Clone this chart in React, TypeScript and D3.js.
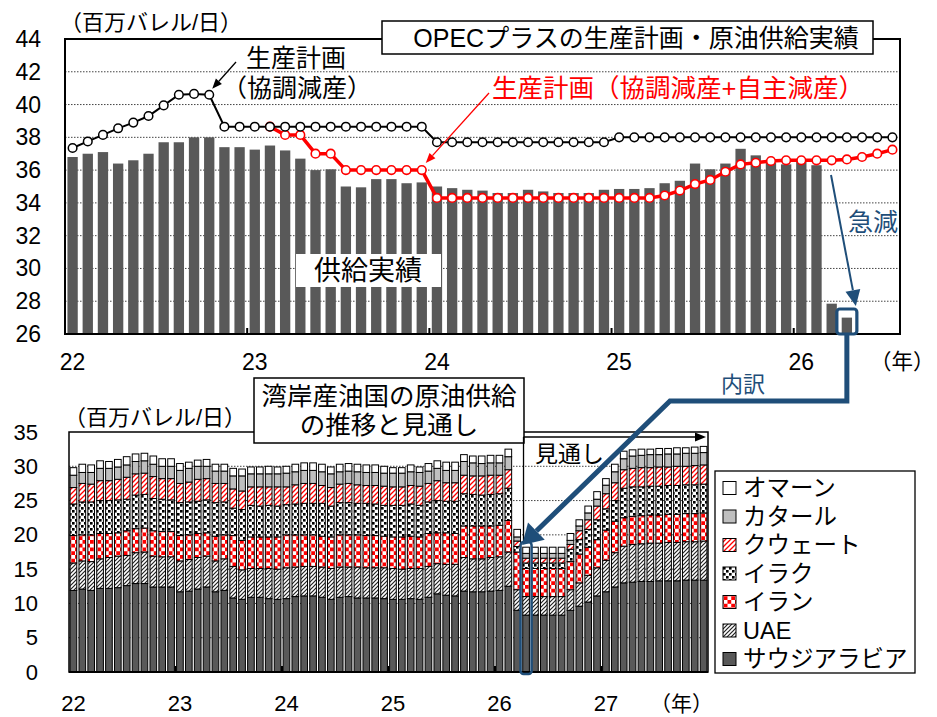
import React from 'react'
import * as d3 from 'd3'

// ---- data: OPEC+ (top chart), monthly Jan 2022 -> Jul 2026
const topMonths = d3.timeMonth.range(new Date(2022, 0, 1), new Date(2026, 7, 1))
const topYears = ['22', '23', '24', '25', '26']

// actual crude supply, Jan 2022 - Apr 2026
const supplyActual = [
  36.8, 37.0, 37.1, 36.4, 36.6, 37.0, 37.7, 37.7, 38.0, 38.0, 37.4, 37.4,
  37.25, 37.5, 37.2, 36.7, 36.0, 36.05, 35.0, 34.95, 35.45, 35.45, 35.2, 35.25,
  35.0, 34.9, 34.8, 34.75, 34.6, 34.6, 34.8, 34.7, 34.6, 34.6, 34.6, 34.8,
  34.85, 34.85, 34.9, 35.2, 35.35, 36.4, 36.05, 36.4, 37.3, 36.9, 36.45, 36.35,
  36.55, 36.3, 27.85, 27.0,
]
// production plan (coordinated cuts)
const planCoord = [
  37.35, 37.75, 38.15, 38.55, 38.9, 39.3, 39.95, 40.6, 40.65, 40.6, 38.65, 38.65,
  38.65, 38.65, 38.65, 38.65, 38.65, 38.65, 38.65, 38.65, 38.65, 38.65, 38.65, 38.65,
  37.7, 37.7, 37.7, 37.7, 37.7, 37.7, 37.7, 37.7, 37.7, 37.7, 37.7, 37.7,
  38.0, 38.0, 38.0, 38.0, 38.0, 38.0, 38.0, 38.0, 38.0, 38.0, 38.0, 38.0,
  38.0, 38.0, 38.0, 38.0, 38.0, 38.0, 38.0,
]
// production plan (coordinated + voluntary cuts)
const planVoluntary = [
  null, null, null, null, null, null, null, null, null, null, null, null,
  null, 38.65, 38.15, 38.15, 37.0, 37.0, 36.0, 36.0, 36.0, 36.0, 36.0, 36.0,
  34.3, 34.3, 34.3, 34.3, 34.3, 34.3, 34.3, 34.3, 34.3, 34.3, 34.3, 34.3,
  34.3, 34.3, 34.3, 34.45, 34.75, 35.15, 35.4, 35.9, 36.35, 36.45, 36.55, 36.6,
  36.6, 36.6, 36.6, 36.65, 36.8, 37.0, 37.25,
]
const topTicks = [26, 28, 30, 32, 34, 36, 38, 40, 42, 44]

// ---- data: Gulf producers (bottom chart), monthly Jan 2022 -> Dec 2027
const botMonths = d3.timeMonth.range(new Date(2022, 0, 1), new Date(2028, 0, 1))
const botYears = ['22', '23', '24', '25', '26', '27']
const saudi = [
  11.9, 12.1, 11.9, 12.2, 12.2, 12.3, 12.6, 12.9, 12.9, 12.4, 12.4, 12.4,
  11.7, 11.8, 12.1, 12.4, 11.7, 11.9, 10.8, 10.6, 10.9, 10.9, 10.7, 10.6,
  10.7, 11.0, 11.1, 11.1, 10.9, 10.6, 10.9, 11.0, 10.8, 10.8, 10.8, 10.7,
  10.6, 10.6, 10.7, 10.6, 10.9, 11.4, 11.2, 11.1, 11.8, 11.7, 11.7, 11.8,
  11.9, 12.5, 9.0, 8.3, 8.3, 8.3, 8.3, 8.3, 9.0, 9.6, 10.2, 11.1,
  11.7, 12.4, 13.0, 13.1, 13.2, 13.2, 13.3, 13.3, 13.3, 13.4, 13.4, 13.4,
]
const uae = [
  4.0, 4.1, 4.2, 4.3, 4.5, 4.6, 4.4, 4.5, 4.6, 4.5, 4.4, 4.4,
  4.5, 4.6, 4.6, 4.5, 4.5, 4.6, 4.6, 4.3, 4.2, 4.2, 4.4, 4.4,
  4.5, 4.3, 4.3, 4.3, 4.4, 4.5, 4.4, 4.3, 4.5, 4.4, 4.4, 4.5,
  4.5, 4.4, 4.4, 4.5, 4.5, 4.4, 4.5, 4.6, 4.9, 4.8, 4.8, 4.9,
  4.9, 5.0, 3.0, 2.7, 2.7, 2.7, 2.7, 2.7, 3.0, 3.4, 3.9, 4.1,
  4.6, 5.0, 5.35, 5.5, 5.5, 5.6, 5.5, 5.6, 5.6, 5.6, 5.6, 5.7,
]
const iran = [
  4.0, 3.8, 3.9, 3.7, 3.5, 3.4, 3.6, 3.5, 3.5, 3.7, 3.7, 3.7,
  3.7, 3.6, 3.5, 3.4, 3.6, 3.5, 4.5, 4.3, 4.6, 4.6, 4.6, 4.7,
  4.8, 4.7, 4.6, 4.6, 4.5, 4.6, 4.7, 4.7, 4.7, 4.7, 4.7, 4.6,
  4.6, 4.7, 4.7, 4.6, 4.8, 4.5, 4.6, 4.5, 4.6, 4.8, 4.8, 4.6,
  4.6, 4.6, 5.5, 4.1, 4.1, 4.1, 4.1, 4.1, 4.1, 4.2, 4.1, 4.1,
  4.4, 4.6, 4.15, 4.1, 4.1, 4.1, 4.1, 4.1, 4.1, 4.1, 4.1, 4.1,
]
const iraq = [
  4.6, 4.8, 4.8, 4.8, 4.8, 4.8, 4.6, 4.9, 4.9, 4.7, 4.7, 4.6,
  4.8, 4.8, 4.7, 4.8, 4.9, 4.8, 4.0, 4.5, 4.6, 4.5, 4.6, 4.5,
  4.4, 4.5, 4.6, 4.6, 4.8, 4.5, 4.7, 4.7, 4.6, 4.7, 4.6, 4.5,
  4.6, 4.6, 4.7, 4.6, 4.6, 4.7, 4.6, 4.7, 4.7, 4.6, 4.5, 4.6,
  4.6, 4.7, 0.8, 0.8, 0.8, 0.8, 0.8, 0.8, 1.8, 2.1, 2.6, 2.9,
  3.1, 3.0, 4.3, 4.3, 4.2, 4.2, 4.2, 4.2, 4.2, 4.2, 4.2, 4.2,
]
const kuwait = [
  2.4, 2.7, 2.6, 2.9, 2.9, 3.0, 3.2, 3.1, 3.1, 3.2, 3.0, 3.1,
  2.8, 2.9, 3.2, 3.1, 2.8, 2.7, 2.8, 2.7, 2.7, 2.8, 2.7, 2.8,
  2.6, 2.8, 2.9, 2.9, 2.6, 2.7, 2.7, 2.8, 2.7, 2.6, 2.7, 2.8,
  2.7, 2.7, 2.7, 2.8, 2.7, 2.9, 2.7, 2.7, 2.7, 2.7, 2.8, 2.8,
  2.7, 2.7, 0.8, 0.7, 0.7, 0.7, 0.7, 0.7, 0.7, 1.3, 1.4, 2.0,
  2.2, 2.6, 2.7, 2.7, 2.8, 2.7, 2.8, 2.7, 2.8, 2.7, 2.8, 2.8,
]
const qatar = [
  1.8, 1.6, 1.7, 1.8, 1.8, 1.8, 1.8, 1.8, 1.8, 1.8, 1.8, 1.8,
  1.9, 2.0, 1.9, 1.8, 1.8, 1.8, 1.9, 2.2, 1.9, 1.9, 1.9, 1.9,
  2.0, 1.9, 1.9, 1.9, 2.0, 2.0, 1.8, 1.8, 1.9, 1.9, 1.9, 1.9,
  2.0, 2.0, 2.0, 2.0, 1.8, 1.8, 1.8, 1.8, 2.0, 1.9, 1.8, 1.8,
  1.8, 1.9, 0.6, 0.7, 0.7, 0.7, 0.7, 0.7, 0.6, 0.7, 1.0, 1.0,
  1.25, 1.6, 1.6, 1.8, 1.8, 1.9, 1.8, 1.9, 1.8, 1.9, 1.8, 1.8,
]
const oman = [
  1.1, 1.2, 1.1, 1.1, 1.0, 1.1, 1.2, 1.1, 1.1, 1.2, 1.1, 1.1,
  1.0, 0.9, 0.9, 1.0, 1.0, 1.0, 1.1, 1.0, 1.0, 1.0, 1.1, 1.0,
  1.0, 1.1, 1.1, 1.1, 1.1, 1.0, 1.1, 1.1, 1.1, 1.1, 1.1, 1.0,
  0.8, 0.8, 1.0, 0.8, 1.1, 1.1, 1.2, 1.2, 1.0, 1.0, 1.1, 1.1,
  1.1, 1.1, 1.1, 0.9, 0.9, 0.9, 0.9, 0.9, 1.0, 0.9, 1.0, 1.1,
  0.95, 1.1, 1.1, 0.9, 0.9, 0.8, 0.9, 0.8, 0.9, 0.8, 0.9, 0.9,
]
const botTicks = [0, 5, 10, 15, 20, 25, 30, 35]
const seriesKeys = ['saudi', 'uae', 'iran', 'iraq', 'kuwait', 'qatar', 'oman']
const seriesNames = ['サウジアラビア', 'UAE', 'イラン', 'イラク', 'クウェート', 'カタール', 'オマーン']

const FONT = "'Liberation Sans', Arial, 'Noto Sans CJK JP', sans-serif"
const BLUE = '#1F4E79'
const RED = '#FF0000'

const fills: Record<string, string> = {
  saudi: '#595959',
  uae: 'url(#hatchGray)',
  iran: 'url(#checkRed)',
  iraq: 'url(#dotsBlack)',
  kuwait: 'url(#hatchRed)',
  qatar: '#BFBFBF',
  oman: '#FFFFFF',
}

// triangle with tip at (x2,y2)
function head(x1: number, y1: number, x2: number, y2: number, len: number, wid: number) {
  const a = Math.atan2(y2 - y1, x2 - x1)
  const bx = x2 - len * Math.cos(a)
  const by = y2 - len * Math.sin(a)
  const px = (wid / 2) * Math.sin(a)
  const py = (wid / 2) * Math.cos(a)
  return {
    pts: `${x2},${y2} ${bx + px},${by - py} ${bx - px},${by + py}`,
    bx, by,
  }
}

function Arrow({ x1, y1, x2, y2, color, width, len, wid }: any) {
  const h = head(x1, y1, x2, y2, len, wid)
  return (
    <g>
      <line x1={x1} y1={y1} x2={h.bx} y2={h.by} stroke={color} strokeWidth={width} />
      <polygon points={h.pts} fill={color} />
    </g>
  )
}

export default function App() {
  /* ---- top chart setup ---- */
  const T = { l: 65, r: 900, t: 39, b: 334 }
  const xT = d3.scaleBand<number>().domain(d3.range(topMonths.length)).range([T.l, T.r]).paddingInner(0.32).paddingOuter(0.16)
  const xTc = (i: number) => (xT(i) as number) + xT.bandwidth() / 2
  const stepT = xT.step()
  const yT = d3.scaleLinear().domain([26, 44]).range([T.b, T.t])

  const lineT = d3.line<number | null>()
    .defined((d) => d != null)
    .x((_, i) => xTc(i))
    .y((d) => yT(d as number))

  /* ---- bottom chart setup ---- */
  const B = { l: 69, r: 708, t: 432, b: 672 }
  const xB = d3.scaleBand<number>().domain(d3.range(botMonths.length)).range([B.l, B.r]).paddingInner(0.25).paddingOuter(0.125)
  const xBc = (i: number) => (xB(i) as number) + xB.bandwidth() / 2
  const stepB = xB.step()
  const yB = d3.scaleLinear().domain([0, 35]).range([B.b, B.t])

  const rows = botMonths.map((_, i) => ({
    saudi: saudi[i], uae: uae[i], iran: iran[i], iraq: iraq[i],
    kuwait: kuwait[i], qatar: qatar[i], oman: oman[i],
  }))
  const stacked = d3.stack<any>().keys(seriesKeys)(rows)

  // callout arrow geometry (from highlighted top bar to highlighted bottom bar)
  const hiTop = 51
  const hiBot = 51
  const topBoxX = xTc(hiTop)
  const botBoxX = xBc(hiBot)
  const calloutHead = head(670, 401, botBoxX - 4, 545, 20, 24)
  const fcX = (xB(50) as number) + xB.bandwidth() + 3

  return (
    <svg width={937} height={717} style={{ position: 'absolute', left: 0, top: 0, background: '#fff' }} fontFamily={FONT}>
      <defs>
        <pattern id="hatchGray" patternUnits="userSpaceOnUse" width={4} height={4}>
          <rect width={4} height={4} fill="#fff" />
          <path d="M-1,1 l2,-2 M0,4 l4,-4 M3,5 l2,-2" stroke="#222" strokeWidth={1.2} />
        </pattern>
        <pattern id="hatchRed" patternUnits="userSpaceOnUse" width={5} height={5}>
          <rect width={5} height={5} fill="#fff" />
          <path d="M-1,1 l2,-2 M0,5 l5,-5 M4,6 l2,-2" stroke={RED} strokeWidth={1.3} />
        </pattern>
        <pattern id="checkRed" patternUnits="userSpaceOnUse" width={7.5} height={7.5}>
          <rect width={7.5} height={7.5} fill="#fff" />
          <rect width={3.75} height={3.75} fill={RED} />
          <rect x={3.75} y={3.75} width={3.75} height={3.75} fill={RED} />
        </pattern>
        <pattern id="dotsBlack" patternUnits="userSpaceOnUse" width={6} height={6}>
          <rect width={6} height={6} fill="#fff" />
          <rect x={0} y={0} width={2.6} height={2.6} fill="#000" />
          <rect x={3} y={3} width={2.6} height={2.6} fill="#000" />
        </pattern>
      </defs>

      {/* ================= TOP CHART ================= */}
      {topTicks.filter((t) => t > 26 && t < 44).map((t) => (
        <line key={'tg' + t} x1={T.l} x2={T.r} y1={yT(t)} y2={yT(t)} stroke="#444" strokeWidth={1} strokeDasharray="1.5,1.5" />
      ))}
      {supplyActual.map((v, i) => (
        <rect key={'sb' + i} x={xT(i)} y={yT(v)} width={xT.bandwidth()} height={yT(26) - yT(v)} fill="#595959" />
      ))}
      {/* frame */}
      <rect x={T.l} y={T.t} width={T.r - T.l} height={T.b - T.t} fill="none" stroke="#000" strokeWidth={2} />
      {[12, 24, 36, 48].map((i) => (
        <line key={'tt' + i} x1={T.l + stepT * i} x2={T.l + stepT * i} y1={T.b} y2={T.b - 6} stroke="#000" strokeWidth={2} />
      ))}

      {/* plan lines */}
      <path d={lineT(planVoluntary) || ''} fill="none" stroke={RED} strokeWidth={3.5} />
      {planVoluntary.map((v, i) => v == null ? null : (
        <circle key={'rv' + i} cx={xTc(i)} cy={yT(v)} r={4.3} fill="#fff" stroke={RED} strokeWidth={1.6} />
      ))}
      <path d={lineT(planCoord) || ''} fill="none" stroke="#000" strokeWidth={2} />
      {planCoord.map((v, i) => (
        <circle key={'bc' + i} cx={xTc(i)} cy={yT(v)} r={4.3} fill="#fff" stroke="#000" strokeWidth={1.5} />
      ))}

      {/* axis labels */}
      {topTicks.map((t) => (
        <text key={'tl' + t} x={41} y={yT(t)} fontSize={23} textAnchor="end" dominantBaseline="central">{t}</text>
      ))}
      {topYears.map((y, k) => (
        <text key={'ty' + y} x={xTc(k * 12)} y={362} fontSize={23} textAnchor="middle" dominantBaseline="central">{y}</text>
      ))}
      <text x={870} y={362} fontSize={21.5} dominantBaseline="central">（年）</text>
      <text x={60} y={22} fontSize={22} dominantBaseline="central">（百万バレル/日）</text>

      {/* title */}
      <rect x={382} y={21} width={491} height={33} fill="#fff" stroke="#000" strokeWidth={1.5} />
      <text x={636} y={38} fontSize={25} textAnchor="middle" dominantBaseline="central">OPECプラスの生産計画・原油供給実績</text>

      {/* annotations */}
      <text x={296} y={58} fontSize={25} textAnchor="middle" dominantBaseline="central">生産計画</text>
      <text x={297} y={88} fontSize={25} textAnchor="middle" dominantBaseline="central">（協調減産）</text>
      <Arrow x1={236} y1={62} x2={xTc(9) + 3} y2={yT(planCoord[9]) - 6} color="#000" width={1.3} len={10} wid={8} />

      <text x={678} y={88} fontSize={25.5} fill={RED} textAnchor="middle" dominantBaseline="central">生産計画（協調減産+自主減産）</text>
      <Arrow x1={489} y1={93} x2={xTc(23) + 4} y2={yT(planVoluntary[23] as number) - 7} color={RED} width={1.3} len={10} wid={8} />

      <rect x={296} y={254} width={145} height={33} fill="#fff" />
      <text x={368} y={271} fontSize={27} textAnchor="middle" dominantBaseline="central">供給実績</text>

      <text x={873} y={222} fontSize={25} fill={BLUE} textAnchor="middle" dominantBaseline="central">急減</text>
      <Arrow x1={831} y1={175} x2={topBoxX + 9} y2={306} color={BLUE} width={2} len={16} wid={15} />
      <rect x={topBoxX - 10} y={309} width={20} height={25} rx={3} fill="none" stroke={BLUE} strokeWidth={3.2} />

      {/* ================= BOTTOM CHART ================= */}
      {botTicks.filter((t) => t > 0 && t < 35).map((t) => (
        <line key={'bg' + t} x1={B.l} x2={B.r} y1={yB(t)} y2={yB(t)} stroke="#444" strokeWidth={1} strokeDasharray="1.5,1.5" />
      ))}
      {stacked.map((s) => (
        <g key={s.key}>
          {s.map((d, i) => (
            <rect key={i} x={xB(i)} y={yB(d[1])} width={xB.bandwidth()} height={Math.max(0, yB(d[0]) - yB(d[1]))}
              fill={fills[s.key]} stroke="#000" strokeWidth={1} />
          ))}
        </g>
      ))}
      <rect x={B.l} y={B.t} width={B.r - B.l} height={B.b - B.t} fill="none" stroke="#000" strokeWidth={1.5} />
      <line x1={B.l} x2={B.r} y1={B.b} y2={B.b} stroke="#000" strokeWidth={2} />
      {[12, 24, 36, 48, 60].map((i) => (
        <line key={'bt' + i} x1={B.l + stepB * i} x2={B.l + stepB * i} y1={B.b} y2={B.b - 6} stroke="#000" strokeWidth={2} />
      ))}

      {botTicks.map((t) => (
        <text key={'bl' + t} x={38} y={yB(t)} fontSize={22} textAnchor="end" dominantBaseline="central">{t}</text>
      ))}
      {botYears.map((y, k) => (
        <text key={'by' + y} x={xBc(k * 12)} y={703} fontSize={22} textAnchor="middle" dominantBaseline="central">{y}</text>
      ))}
      <text x={650} y={703} fontSize={21} dominantBaseline="central">（年）</text>
      <text x={64} y={417} fontSize={22} dominantBaseline="central">（百万バレル/日）</text>

      <rect x={254} y={378} width={270} height={65} fill="#fff" stroke="#000" strokeWidth={1.5} />
      <text x={389} y={396} fontSize={25.5} textAnchor="middle" dominantBaseline="central">湾岸産油国の原油供給</text>
      <text x={389} y={425} fontSize={25.5} textAnchor="middle" dominantBaseline="central">の推移と見通し</text>

      {/* outlook marker */}
      <line x1={fcX} x2={fcX} y1={437} y2={544} stroke="#000" strokeWidth={1.3} />
      <Arrow x1={fcX} y1={437} x2={706} y2={437} color="#000" width={1.3} len={11} wid={9} />
      <text x={535} y={454} fontSize={23} dominantBaseline="central">見通し</text>

      {/* highlight of the bottom bar */}
      <rect x={botBoxX - 5.5} y={542} width={11} height={B.b - 542 + 2} rx={3} fill="none" stroke={BLUE} strokeWidth={2.5} />

      {/* callout from the top chart */}
      <path d={`M${topBoxX},${334} V401 H670 L${calloutHead.bx},${calloutHead.by}`} fill="none" stroke={BLUE} strokeWidth={5} strokeLinejoin="miter" />
      <polygon points={calloutHead.pts} fill={BLUE} />
      <text x={743} y={384} fontSize={22} fill={BLUE} textAnchor="middle" dominantBaseline="central">内訳</text>

      {/* legend */}
      <rect x={715} y={471} width={200} height={202} fill="#fff" stroke="#000" strokeWidth={1.3} />
      {seriesKeys.slice().reverse().map((k, j) => {
        const cy = 488 + j * 28.5
        const name = seriesNames[seriesKeys.length - 1 - j]
        return (
          <g key={'lg' + k}>
            <rect x={723} y={cy - 6.5} width={13} height={13} fill={fills[k]} stroke="#000" strokeWidth={1} />
            <text x={743} y={cy} fontSize={23.5} dominantBaseline="central">{name}</text>
          </g>
        )
      })}
    </svg>
  )
}
